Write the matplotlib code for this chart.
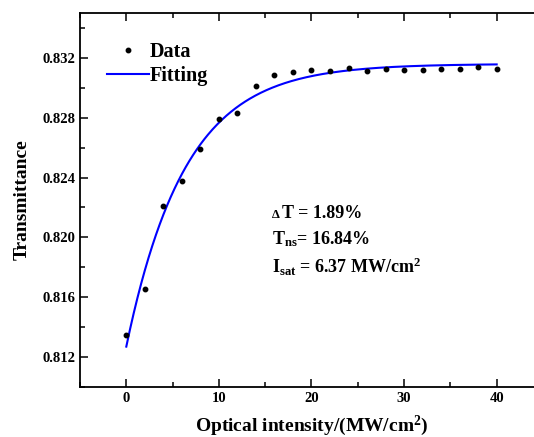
import matplotlib
matplotlib.use("Agg")
import matplotlib.pyplot as plt
import numpy as np
from matplotlib.ticker import MultipleLocator

plt.rcParams["font.family"] = ["Liberation Serif", "DejaVu Serif"]
plt.rcParams["font.weight"] = "bold"
plt.rcParams["mathtext.default"] = "regular"

# measured points
intensity = [0, 2, 4, 6, 8, 10, 12, 14, 16, 18, 20, 22, 24, 26, 28, 30, 32, 34, 36, 38, 40]
transmittance = [0.81349, 0.81655, 0.82209, 0.82380, 0.82589, 0.82789, 0.82829, 0.83009,
                 0.83089, 0.83109, 0.83120, 0.83111, 0.83131, 0.83115, 0.83127, 0.83120,
                 0.83120, 0.83129, 0.83129, 0.83137, 0.83129]

# fit parameters (saturable absorption model)
t_max = 0.8316
delta_t = 0.0189
i_sat = 6.37

fig = plt.figure(figsize=(5.34, 4.37), dpi=100)
ax = fig.add_axes([0.1498, 0.1144, 0.867, 0.8558])

i_fit = np.linspace(0, 40, 400)
t_fit = t_max - delta_t * np.exp(-i_fit / i_sat)

ax.plot(intensity, transmittance, "o", color="black", markersize=3.2, label="Data", zorder=3)
ax.plot(i_fit, t_fit, color="#0000ff", linewidth=1.5, label="Fitting", zorder=2)

ax.set_xlim(-5, 45)
ax.set_ylim(0.810, 0.835)
ax.xaxis.set_major_locator(MultipleLocator(10))
ax.xaxis.set_minor_locator(MultipleLocator(5))
ax.yaxis.set_minor_locator(MultipleLocator(0.002))
ax.set_yticks([0.812, 0.816, 0.820, 0.824, 0.828, 0.832])
ax.set_yticklabels(["0.812", "0.816", "0.820", "0.824", "0.828", "0.832"])
ax.tick_params(which="both", direction="in", top=True, right=True, width=1.1)
ax.tick_params(which="major", length=6, labelsize=10.5)
ax.tick_params(which="minor", length=3.5)
for lab in ax.get_xticklabels() + ax.get_yticklabels():
    lab.set_fontweight("bold")
for sp in ax.spines.values():
    sp.set_linewidth(1.3)
ax.spines["right"].set_visible(False)

ax.set_xlabel("Optical intensity/(MW/cm$^{2}$)", fontsize=14, fontweight="bold", labelpad=6)
ax.set_ylabel("Transmittance", fontsize=14, fontweight="bold", labelpad=8)

ax.legend(loc="upper left", bbox_to_anchor=(0.02, 0.972), frameon=False,
          handlelength=2.05, handletextpad=0.05, labelspacing=0.22,
          prop={"weight": "bold", "size": 14.5})

ax.text(0.415, 0.452, "\u0394", transform=ax.transAxes, fontsize=9, fontweight="bold")
ax.text(0.436, 0.452, "T = 1.89%", transform=ax.transAxes, fontsize=13, fontweight="bold")
ax.text(0.415, 0.382, "T$_{ns}$= 16.84%", transform=ax.transAxes, fontsize=13, fontweight="bold")
ax.text(0.415, 0.305, "I$_{sat}$ = 6.37 MW/cm$^{2}$", transform=ax.transAxes, fontsize=13, fontweight="bold")

fig.savefig("out.png", dpi=100)
